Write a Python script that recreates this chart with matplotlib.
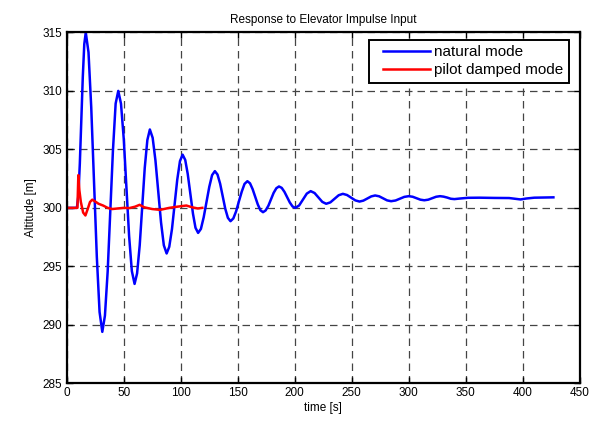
import matplotlib
matplotlib.use("Agg")
import matplotlib.pyplot as plt
from matplotlib.lines import Line2D
from matplotlib.legend_handler import HandlerLine2D

plt.rcParams["font.family"] = ["Liberation Sans", "DejaVu Sans"]

# natural mode (blue)
t_nat = [0, 9, 10.3, 11.6, 12.9, 14.2, 15.5, 16.8,
         19.2, 21.6, 24.05, 26.5, 28.9, 31.3,
         33.6, 36.0, 38.3, 40.6, 43.0, 45.3,
         47.7, 50.1, 52.45, 54.8, 57.2, 59.6,
         61.8, 64.1, 66.3, 68.5, 70.8, 73.0,
         75.45, 77.9, 80.35, 82.8, 85.25, 87.7,
         90.0, 92.4, 94.7, 97.0, 99.4, 101.7,
         104.0, 106.2, 108.5, 110.8, 113.0, 115.3,
         117.75, 120.2, 122.65, 125.1, 127.55, 130.0,
         132.3, 134.6, 136.85, 139.1, 141.4, 143.7,
         146.2, 148.6, 151.1, 153.6, 156.0, 158.5,
         160.8, 163.1, 165.35, 167.6, 169.9, 172.2,
         174.5, 176.9, 179.2, 181.5, 183.9, 186.2,
         188.6, 191.0, 193.35, 195.7, 198.1, 200.5,
         203.9, 207.25, 210.6, 214.0,
         217.4, 220.8, 224.2, 227.6,
         231.25, 234.9, 238.55, 242.2,
         245.85, 249.5, 253.15, 256.8,
         260.2, 263.65, 267.1, 270.5,
         274.0, 277.5, 281.0, 284.5,
         288.4, 292.25, 296.1, 300.0,
         303.4, 306.8, 310.2, 313.6,
         317.05, 320.5, 323.95, 327.4,
         330.5, 333.7, 336.8, 340.0,
         345, 352, 362, 375, 388, 393, 398, 403, 410, 426.8]
alt_nat = [300, 300, 301.0, 303.8, 307.5, 311.2, 314.0, 315.0,
           313.3, 308.6, 302.2, 295.8, 291.1, 289.4,
           290.78, 294.55, 299.7, 304.85, 308.92, 310.0,
           308.9, 305.9, 301.75, 297.6, 294.6, 293.5,
           294.4, 296.8, 300.1, 303.4, 305.8, 306.7,
           305.99, 304.05, 301.4, 298.75, 296.8, 296.1,
           296.67, 298.2, 300.33, 302.4, 304.0, 304.55,
           304.1, 302.9, 301.2, 299.5, 298.3, 297.86,
           298.2, 299.2, 300.5, 301.8, 302.8, 303.14,
           302.85, 302.07, 301.0, 299.93, 299.15, 298.86,
           299.1, 299.7, 300.57, 301.4, 302.05, 302.28,
           302.1, 301.6, 300.96, 300.3, 299.8, 299.63,
           299.78, 300.18, 300.73, 301.28, 301.68, 301.83,
           301.71, 301.37, 300.92, 300.46, 300.12, 300.0,
           300.21, 300.72, 301.22, 301.43,
           301.27, 300.89, 300.51, 300.35,
           300.47, 300.78, 301.08, 301.2,
           301.1, 300.87, 300.64, 300.54,
           300.62, 300.8, 300.98, 301.06,
           300.99, 300.82, 300.64, 300.57,
           300.63, 300.79, 300.94, 301.0,
           300.95, 300.83, 300.7, 300.65,
           300.7, 300.83, 300.95, 301.0,
           300.96, 300.88, 300.78, 300.75,
           300.8, 300.86, 300.87, 300.85, 300.84, 300.78, 300.72, 300.8, 300.87, 300.9]

# pilot damped mode (red)
t_pil = [0, 9.5, 10.3, 11.2, 12.5, 14.5, 16.5, 18.5, 20.5, 22.5, 25, 28, 32, 36, 40,
         45, 50, 55, 60, 64, 68, 75, 82, 90, 97, 105, 110, 115, 119]
alt_pil = [300, 300, 302.8, 301.5, 300.5, 299.6, 299.35, 299.9, 300.5, 300.7, 300.55,
           300.35, 300.2, 300.0, 299.9, 299.95, 300.0, 299.98, 300.1, 300.26, 300.05,
           299.9, 299.83, 300.0, 300.1, 300.2, 300.05, 299.95, 300.0]

fig = plt.figure(figsize=(5.92, 4.21), dpi=100)
ax = fig.add_axes([0.1125, 0.0895, 0.867, 0.8335])

ax.plot(t_nat, alt_nat, color="#0000ff", lw=1.8, label="natural mode")
ax.plot(t_pil, alt_pil, color="#ff0000", lw=1.8, label="pilot damped mode")

ax.set_xlim(0, 450)
ax.set_ylim(285, 315)
ax.set_xticks(range(0, 451, 50))
ax.set_yticks(range(285, 316, 5))
ax.tick_params(direction="in", length=4, width=1, top=True, right=True, labelsize=8.5, pad=3)
for s in ax.spines.values():
    s.set_linewidth(1.6)
ax.grid(True, color="#444444", ls=(0, (6, 4)), lw=0.9)

ax.set_title("Response to Elevator Impulse Input", fontsize=8.5, pad=7)
ax.set_xlabel("time [s]", fontsize=8.5, labelpad=2)
ax.set_ylabel("Altitude [m]", fontsize=8.5, labelpad=4)

# extra room left of the legend lines, like the MATLAB legend
leg = ax.legend(loc="upper right", bbox_to_anchor=(0.979, 0.978), fontsize=11,
                fancybox=False, framealpha=1, edgecolor="black", handlelength=3.66,
                handletextpad=0.3, borderaxespad=0, labelspacing=0.25, borderpad=0.35,
                handler_map={Line2D: HandlerLine2D(xpad=0.59)})
leg.get_frame().set_linewidth(1.4)

fig.savefig("out.png", dpi=100)
